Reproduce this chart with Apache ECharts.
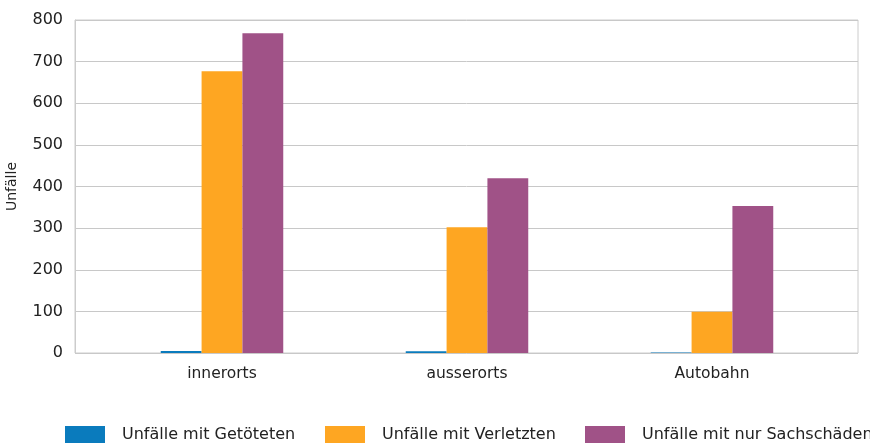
<!DOCTYPE html>
<html><head><meta charset="utf-8">
<script src="https://cdn.jsdelivr.net/npm/echarts@6/dist/echarts.min.js"></script>
<style>html,body{margin:0;padding:0;background:#fff}#c{width:870px;height:443px}</style>
</head><body><div id="c"></div>
<script>
var categories = ['innerorts', 'ausserorts', 'Autobahn'];
var seriesNames = ['Unfälle mit Getöteten', 'Unfälle mit Verletzten', 'Unfälle mit nur Sachschäden'];
var getoetete = [5, 4, 1];
var verletzte = [677, 302, 99];
var sachschaeden = [768, 420, 353];
var yTicks = [0, 100, 200, 300, 400, 500, 600, 700, 800];
var colors = ['#0a7bbd', '#fea622', '#a05287'];
var font = 'DejaVu Sans, sans-serif';
var legendLefts = [65, 325, 585];

var chart = echarts.init(document.getElementById('c'), null, {renderer: 'canvas'});
var values = [getoetete, verletzte, sachschaeden];
chart.setOption({
  animation: false,
  color: colors,
  textStyle: {fontFamily: font},
  grid: [
    {left: 99.5, right: 35.5, top: 20, bottom: 90, outerBoundsMode: 'none', containLabel: false},
    {left: 75, right: 12, top: 20, bottom: 90, outerBoundsMode: 'none', containLabel: false,
     show: true, borderColor: '#cccccc', borderWidth: 1, backgroundColor: 'transparent'}
  ],
  xAxis: [
    {type: 'category', gridIndex: 0, data: categories, axisLine: {show: false}, axisTick: {show: false},
     axisLabel: {color: '#222', fontSize: 15.5, margin: 13, fontFamily: font}},
    {type: 'value', gridIndex: 1, show: false, min: 0, max: 1}
  ],
  yAxis: [
    {type: 'value', gridIndex: 0, min: yTicks[0], max: yTicks[yTicks.length - 1], interval: 100, show: false},
    {type: 'value', gridIndex: 1, min: yTicks[0], max: yTicks[yTicks.length - 1], interval: 100,
     name: 'Unfälle', nameLocation: 'middle', nameGap: 56, nameRotate: 90,
     nameTextStyle: {color: '#222', fontSize: 14, fontFamily: font},
     axisLine: {show: true, lineStyle: {color: '#cccccc'}}, axisTick: {show: false},
     axisLabel: {color: '#222', fontSize: 16, margin: 12, fontFamily: font},
     splitLine: {show: true, lineStyle: {color: '#c8c8c8', width: 1}}}
  ],
  legend: seriesNames.map(function (n, i) {
    return {
      data: [n], left: legendLefts[i], top: 426, padding: 0, itemWidth: 40, itemHeight: 18,
      icon: 'rect', width: 400,
      textStyle: {color: '#222', fontSize: 16, fontFamily: font, padding: [0, 0, 7, 12]}
    };
  }),
  series: seriesNames.map(function (n, i) {
    return {name: n, type: 'bar', xAxisIndex: 0, yAxisIndex: 0, data: values[i],
      barGap: '0%', barCategoryGap: '50%', itemStyle: {color: colors[i]}};
  })
});
</script></body></html>
